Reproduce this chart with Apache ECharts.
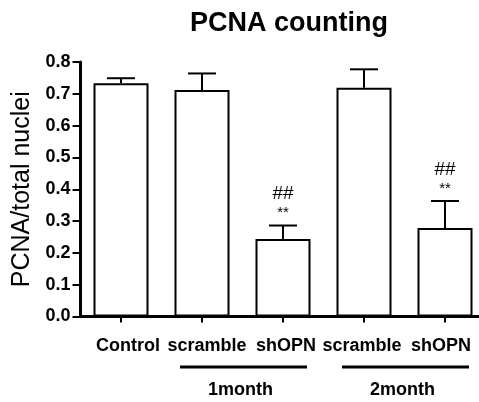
<!DOCTYPE html>
<html>
<head>
<meta charset="utf-8">
<script src="https://cdn.jsdelivr.net/npm/echarts@6/dist/echarts.min.js"></script>
<style>
  html, body { margin: 0; padding: 0; background: #fff; }
  #chart { width: 479px; height: 402px; }
</style>
</head>
<body>
<div id="chart"></div>
<script>
// chart values
var categories = ['Control', 'scramble', 'shOPN', 'scramble', 'shOPN'];
var means = [0.733, 0.712, 0.244, 0.719, 0.278];
var errors = [0.016, 0.052, 0.042, 0.058, 0.085];
var sigHash = ['', '', '##', '', '##'];
var sigStar = ['', '', '**', '', '**'];
var yTicks = [0, 0.1, 0.2, 0.3, 0.4, 0.5, 0.6, 0.7, 0.8];
var groupNames = ['1month', '2month'];
var groupStart = [1, 3];
var groupEnd = [2, 4];

var FONT = 'Liberation Sans, Arial, sans-serif';
// small horizontal nudges of the category labels (px), as in the original figure
var labelShift = [7, 5, 3, -2, -4];

var chart = echarts.init(document.getElementById('chart'));

var errData = means.map(function (m, i) { return [i, m, errors[i]]; });

var labelRich = {};
labelShift.forEach(function (s, i) {
    labelRich['c' + i] = {
        fontFamily: FONT, fontSize: 18, fontWeight: 'bold', color: '#000',
        padding: s > 0 ? [0, 0, 0, 2 * s] : [0, -2 * s, 0, 0]
    };
});

var option = {
    backgroundColor: '#fff',
    animation: false,
    title: {
        text: 'PCNA counting',
        left: 284,
        top: 5,
        textAlign: 'center',
        textStyle: { fontFamily: FONT, fontSize: 27, fontWeight: 'bold', color: '#000' }
    },
    // the plot runs a little past the right edge of the picture
    grid: { left: 80.5, top: 62, width: 405, bottom: 85.5, outerBoundsMode: 'none', containLabel: false },
    xAxis: {
        type: 'category',
        data: categories,
        axisLine: { lineStyle: { color: '#000', width: 3 } },
        axisTick: { show: true, alignWithLabel: true, interval: 0, length: 6, lineStyle: { color: '#000', width: 2 } },
        axisLabel: {
            interval: 0,
            hideOverlap: false,
            margin: 21,
            fontFamily: FONT, fontSize: 18, fontWeight: 'bold', color: '#000',
            formatter: function (v, i) { return '{c' + i + '|' + v + '}'; },
            rich: labelRich
        }
    },
    yAxis: {
        type: 'value',
        min: yTicks[0],
        max: yTicks[yTicks.length - 1],
        interval: 0.1,
        name: 'PCNA/total nuclei',
        nameLocation: 'middle',
        nameRotate: 90,
        nameGap: 45,
        nameTextStyle: { fontFamily: FONT, fontSize: 25, color: '#000' },
        splitLine: { show: false },
        axisLine: { show: true, lineStyle: { color: '#000', width: 3 } },
        axisTick: { show: true, length: 8, lineStyle: { color: '#000', width: 2 } },
        axisLabel: {
            margin: 10,
            fontFamily: FONT, fontSize: 18, fontWeight: 'bold', color: '#000',
            formatter: function (v) { return v.toFixed(1); }
        }
    },
    series: [{
        type: 'bar',
        data: means,
        barWidth: 55,
        itemStyle: { color: '#fff', borderColor: '#000', borderWidth: 2 },
        z: 2
    }, {
        type: 'custom',
        data: errData,
        z: 3,
        renderItem: function (params, api) {
            var i = api.value(0);
            var top = api.coord([i, api.value(1) + api.value(2)]);
            var base = api.coord([i, api.value(1)]);
            var half = 14;
            var children = [{
                type: 'line',
                shape: { x1: top[0], y1: base[1], x2: top[0], y2: top[1] },
                style: { stroke: '#000', lineWidth: 2 }
            }, {
                type: 'line',
                shape: { x1: top[0] - half, y1: top[1], x2: top[0] + half, y2: top[1] },
                style: { stroke: '#000', lineWidth: 2 }
            }];
            if (sigStar[i]) {
                children.push({
                    type: 'text',
                    style: {
                        text: sigStar[i], x: top[0], y: top[1] - 5,
                        align: 'center', verticalAlign: 'bottom',
                        font: '15px ' + FONT, fill: '#000'
                    }
                });
                children.push({
                    type: 'text',
                    style: {
                        text: sigHash[i], x: top[0], y: top[1] - 22,
                        align: 'center', verticalAlign: 'bottom',
                        font: '19px ' + FONT, fill: '#000'
                    }
                });
            }
            return { type: 'group', children: children };
        }
    }]
};

chart.setOption(option);

// group brackets under the category labels
var graphics = [];
groupNames.forEach(function (name, g) {
    var x1 = chart.convertToPixel({ xAxisIndex: 0 }, groupStart[g]) - 22;
    var x2 = chart.convertToPixel({ xAxisIndex: 0 }, groupEnd[g]) + 24;
    graphics.push({
        type: 'line',
        shape: { x1: x1, y1: 367, x2: x2, y2: 367 },
        style: { stroke: '#000', lineWidth: 3 }
    });
    graphics.push({
        type: 'text',
        x: (x1 + x2) / 2 - 3,
        y: 390,
        style: {
            text: name, align: 'center', verticalAlign: 'middle',
            font: 'bold 18px ' + FONT, fill: '#000'
        }
    });
});
chart.setOption({ graphic: graphics });
</script>
</body>
</html>
